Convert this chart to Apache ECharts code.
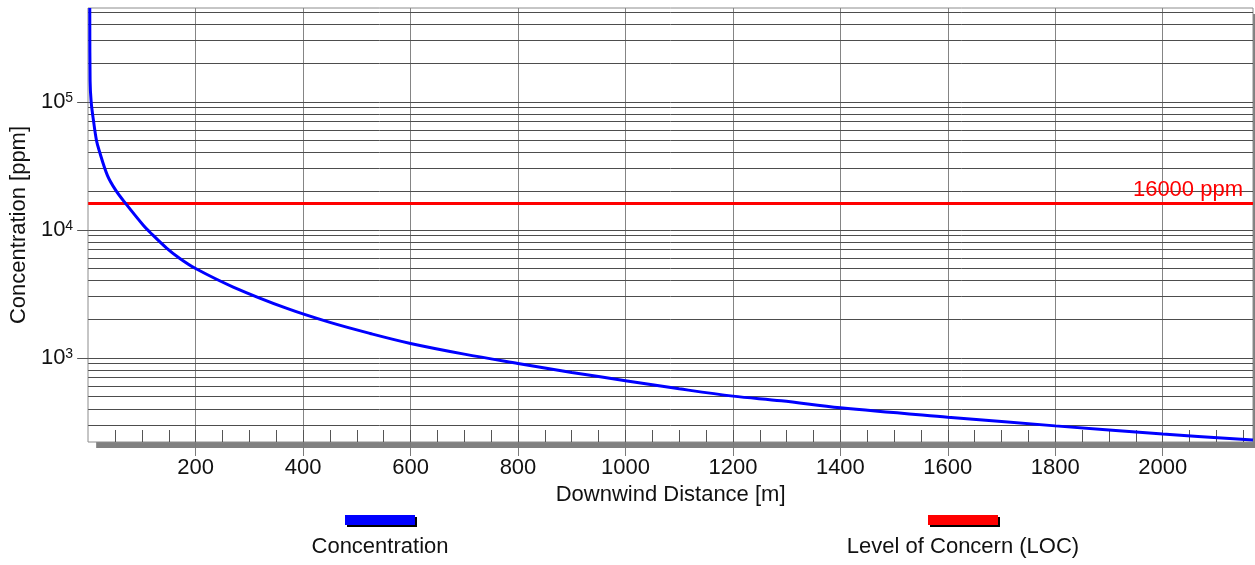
<!DOCTYPE html>
<html>
<head>
<meta charset="utf-8">
<script src="https://cdn.jsdelivr.net/npm/echarts@6/dist/echarts.min.js"></script>
<style>
  html, body { margin: 0; padding: 0; background: #fff; }
  #chart { width: 1255px; height: 565px; }
</style>
</head>
<body>
<div id="chart"></div>
<script>
// Downwind distance [m] and modelled concentration [ppm]
const distance = [3, 3.6, 5.6, 9.9, 15.5, 20.5, 36, 51.5, 70, 103, 115, 146, 170, 200, 270, 370, 450, 525, 600, 700, 800, 900, 1000, 1100, 1200, 1290, 1400, 1600, 1800, 2000, 2168];
const concentration = [540000, 146000, 100000, 71300, 49800, 41600, 26500, 20300, 16000, 10800, 9570, 7200, 6000, 4980, 3570, 2430, 1890, 1549, 1295, 1069, 904, 769, 663, 573, 502, 462, 407, 344, 294, 254, 228];

// Level of concern threshold [ppm]
const locValue = 16000;

const seriesNames = ['Concentration', 'Level of Concern (LOC)'];
const xName = 'Downwind Distance [m]';
const yName = 'Concentration [ppm]';

// Axis ranges and labelled ticks
const xMin = 0;
const xMax = 2168;
const yMin = 220;
const yMax = 540000;
const xTicks = [200, 400, 600, 800, 1000, 1200, 1400, 1600, 1800, 2000];
const yTicks = [1000, 10000, 100000];

// Minor distance ticks every 50 m
const xMinorTicks = [];
for (let v = 50; v < xMax; v += 50) xMinorTicks.push(v);

// Horizontal grid at 1..9 x 10^k inside the value range
const yGrid = [];
for (let k = 2; k <= 5; k++) {
  for (let m = 1; m <= 9; m++) {
    const v = m * Math.pow(10, k);
    if (v > yMin && v < yMax) yGrid.push(v);
  }
}

const FONT = "'Liberation Sans', Arial, sans-serif";
const TEXT = '#111';
const PLOT = { left: 88, right: 2, top: 8, bottom: 123 };

const chart = echarts.init(document.getElementById('chart'), null, { renderer: 'canvas' });

chart.setOption({
  animation: false,
  backgroundColor: '#fff',
  textStyle: { fontFamily: FONT },
  grid: [
    // plotting area with a hard drop shadow
    Object.assign({
      show: true,
      backgroundColor: '#fff',
      borderWidth: 0,
      shadowColor: '#808080',
      shadowBlur: 0,
      shadowOffsetX: 8,
      shadowOffsetY: 6
    }, PLOT),
    // frame drawn over the background
    Object.assign({
      show: true,
      backgroundColor: 'transparent',
      borderColor: '#8c8c8c',
      borderWidth: 1
    }, PLOT)
  ],
  legend: [
    {
      data: [seriesNames[0]],
      left: 345, top: 515, padding: 0,
      icon: 'rect', itemWidth: 70, itemHeight: 10,
      formatter: () => '',
      selectedMode: false,
      itemStyle: { shadowColor: '#000', shadowBlur: 0, shadowOffsetX: 2, shadowOffsetY: 2 }
    },
    {
      data: [seriesNames[1]],
      left: 928, top: 515, padding: 0,
      icon: 'rect', itemWidth: 70, itemHeight: 10,
      formatter: () => '',
      selectedMode: false,
      itemStyle: { shadowColor: '#000', shadowBlur: 0, shadowOffsetX: 2, shadowOffsetY: 2 }
    }
  ],
  graphic: [
    {
      type: 'text', x: 380, y: 547,
      style: { text: seriesNames[0], align: 'center', verticalAlign: 'middle', font: '22px ' + FONT, fill: TEXT }
    },
    {
      type: 'text', x: 963, y: 547,
      style: { text: seriesNames[1], align: 'center', verticalAlign: 'middle', font: '22px ' + FONT, fill: TEXT }
    }
  ],
  xAxis: [
    {
      type: 'value',
      gridIndex: 0,
      min: xMin, max: xMax, interval: 200,
      position: 'bottom',
      name: xName,
      nameLocation: 'middle',
      nameGap: 42,
      nameTextStyle: { fontSize: 22, color: TEXT, fontFamily: FONT },
      axisLine: { show: false },
      axisTick: { show: true, customValues: xTicks, length: 14, lineStyle: { color: '#7a7a7a', width: 1 } },
      axisLabel: {
        customValues: xTicks,
        margin: 15, fontSize: 22, color: TEXT, fontFamily: FONT,
        formatter: v => (xTicks.indexOf(v) >= 0 ? String(v) : '')
      },
      splitLine: { show: true, lineStyle: { color: '#858585', width: 1 } }
    },
    {
      type: 'value',
      gridIndex: 0,
      min: xMin, max: xMax, interval: 50,
      position: 'bottom',
      axisLine: { show: false },
      axisTick: { show: true, inside: true, customValues: xMinorTicks, length: 12, lineStyle: { color: '#555', width: 1 } },
      axisLabel: { show: false },
      splitLine: { show: false }
    }
  ],
  yAxis: {
    type: 'log',
    gridIndex: 0,
    logBase: 10,
    min: yMin, max: yMax,
    name: yName,
    nameLocation: 'middle',
    nameRotate: 90,
    nameGap: 57,
    nameTextStyle: { fontSize: 22, color: TEXT, fontFamily: FONT },
    axisLine: { show: false },
    axisTick: { show: true, customValues: yTicks, length: 11, lineStyle: { color: '#555', width: 1 } },
    axisLabel: {
      customValues: yTicks,
      margin: 15,
      color: TEXT,
      fontFamily: FONT,
      formatter: v => {
        const e = Math.log10(v);
        if (Math.abs(e - Math.round(e)) > 1e-6) return '';
        return '{b|10}{s|' + Math.round(e) + '}';
      },
      rich: {
        b: { fontSize: 22, lineHeight: 22, color: TEXT, fontFamily: FONT },
        s: { fontSize: 14, lineHeight: 14, color: TEXT, fontFamily: FONT, verticalAlign: 'top' }
      }
    },
    splitLine: { show: false }
  },
  series: [
    {
      name: 'gridLines',
      type: 'line',
      xAxisIndex: 0, yAxisIndex: 0,
      data: [],
      silent: true,
      markLine: {
        z: 1,
        silent: true,
        symbol: ['none', 'none'],
        label: { show: false },
        lineStyle: { color: '#4d4d4d', width: 1, type: 'solid' },
        emphasis: { disabled: true },
        data: yGrid.map(v => ({ yAxis: v }))
      }
    },
    {
      name: seriesNames[1],
      type: 'line',
      xAxisIndex: 0, yAxisIndex: 0,
      data: [],
      z: 2,
      color: '#ff0000',
      itemStyle: { color: '#ff0000' },
      lineStyle: { color: '#ff0000', width: 3 },
      markLine: {
        z: 2,
        silent: true,
        symbol: ['none', 'none'],
        lineStyle: { color: '#ff0000', width: 3, type: 'solid' },
        emphasis: { disabled: true },
        label: {
          show: true,
          position: 'insideEndTop',
          distance: [10, 3],
          formatter: p => p.value + ' ppm',
          color: '#ff0000',
          fontSize: 22,
          fontFamily: FONT
        },
        data: [{ yAxis: locValue }]
      }
    },
    {
      name: seriesNames[0],
      type: 'line',
      xAxisIndex: 0, yAxisIndex: 0,
      z: 3,
      data: distance.map((d, i) => [d, concentration[i]]),
      color: '#0000ff',
      itemStyle: { color: '#0000ff' },
      lineStyle: { color: '#0000ff', width: 3 },
      symbol: 'none',
      smooth: 0.35,
      clip: true
    }
  ]
});
</script>
</body>
</html>
